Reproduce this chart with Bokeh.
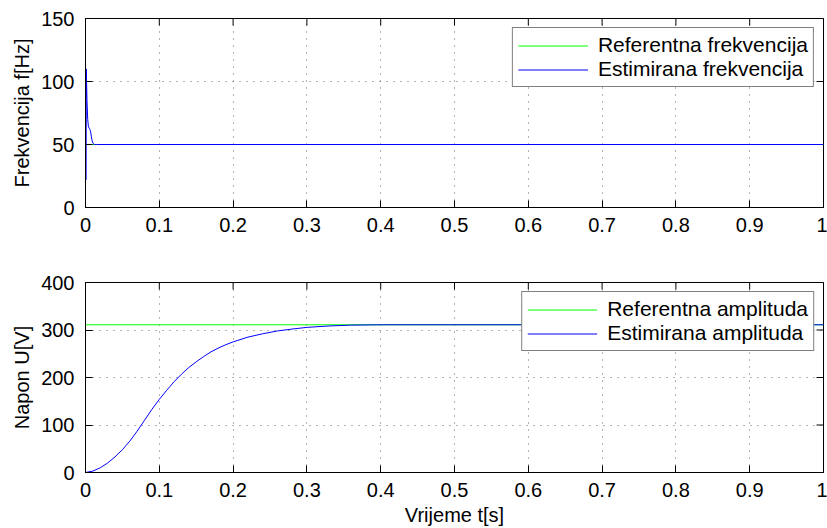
import math
from bokeh.plotting import figure
from bokeh.layouts import column
from bokeh.models import Range1d, FixedTicker, Legend, LegendItem
from bokeh.embed import file_html
from bokeh.resources import INLINE

# ---- data ----
t_ref_f = [0.0, 1.0]
f_ref = [50, 50]
t_est_f = [0.0008, 0.0011, 0.002, 0.003, 0.004, 0.005, 0.006, 0.007, 0.008, 0.009, 0.010, 0.012, 0.015, 1.0]
f_est = [22, 110, 85, 70, 64, 63, 62, 60, 56, 53, 51, 50, 50, 50]

t_ref_u = [0.0, 1.0]
u_ref = [311, 311]
t_est_u = [0, 0.01, 0.02, 0.03, 0.04, 0.05, 0.06, 0.07, 0.08, 0.09, 0.10, 0.11, 0.12, 0.13,
           0.14, 0.15, 0.16, 0.17, 0.18, 0.19, 0.20, 0.22, 0.24, 0.26, 0.28, 0.30, 0.33,
           0.36, 0.40, 1.0]
u_est = [0, 3, 10, 20, 33, 48, 66, 87, 110, 133, 154, 173, 191, 207,
         221, 233, 244, 254, 262, 269, 275, 285, 292, 298, 302, 305.5, 308.5,
         310.2, 311, 311]

x_ticks = [0, 0.1, 0.2, 0.3, 0.4, 0.5, 0.6, 0.7, 0.8, 0.9, 1]
x_tick_labels = {0: "0", 0.1: "0.1", 0.2: "0.2", 0.3: "0.3", 0.4: "0.4", 0.5: "0.5",
                 0.6: "0.6", 0.7: "0.7", 0.8: "0.8", 0.9: "0.9", 1: "1"}
f_ticks = [0, 50, 100, 150]
u_ticks = [0, 100, 200, 300, 400]

FONT = "Liberation Sans"
FS = "20px"
LFS = "21px"
GREEN = "#00ff00"
BLUE = "#0000ff"


def style_fig(p, yticks):
    p.outline_line_color = "black"
    p.outline_line_width = 1
    p.xaxis.ticker = FixedTicker(ticks=x_ticks)
    p.xaxis.major_label_overrides = x_tick_labels
    p.yaxis.ticker = FixedTicker(ticks=yticks)
    for ax in p.xaxis + p.yaxis:
        ax.major_tick_in = 7
        ax.major_tick_out = 0
        ax.minor_tick_in = 0
        ax.minor_tick_out = 0
        ax.axis_line_color = "black"
        ax.major_tick_line_color = "black"
        ax.major_label_text_font = FONT
        ax.major_label_text_font_size = FS
        ax.major_label_text_color = "black"
        ax.axis_label_text_font = FONT
        ax.axis_label_text_font_size = FS
        ax.axis_label_text_font_style = "normal"
        ax.axis_label_text_color = "black"
    p.xaxis.major_label_standoff = 10
    p.yaxis.major_label_standoff = 11
    for g in (p.xgrid, p.ygrid):
        g.grid_line_color = "#444444"
        g.grid_line_dash = "1 6"
        g.grid_line_width = 1
        g.grid_line_alpha = 0.8
    p.xgrid.ticker = FixedTicker(ticks=x_ticks)
    p.ygrid.ticker = FixedTicker(ticks=yticks)
    # box ticks on top and right edges (inward), clipped to the frame
    p.scatter(x=x_ticks, y=[yticks[-1]] * len(x_ticks), marker="dash", size=14,
              angle=math.pi / 2, line_color="black", line_width=1)
    p.scatter(x=[x_ticks[-1]] * len(yticks), y=yticks, marker="dash", size=14,
              angle=0, line_color="black", line_width=1)


def add_legend(p, r1, l1, r2, l2):
    leg = Legend(items=[LegendItem(label=l1, renderers=[r1]), LegendItem(label=l2, renderers=[r2])],
                 location="top_right")
    leg.label_text_font = FONT
    leg.label_text_font_size = LFS
    leg.label_text_color = "black"
    leg.glyph_width = 70
    leg.glyph_height = 23
    leg.label_height = 23
    leg.label_standoff = 10
    leg.padding = 5
    leg.spacing = 0
    leg.margin = 9
    leg.border_line_color = "black"
    leg.border_line_width = 1
    leg.background_fill_alpha = 1.0
    p.add_layout(leg)


p1 = figure(width=827, height=252, x_range=Range1d(0, 1), y_range=Range1d(0, 150),
            output_backend="svg", toolbar_location=None,
            min_border_left=85, min_border_right=4, min_border_top=18, min_border_bottom=45)
style_fig(p1, f_ticks)
p1.left[0].axis_label = "Frekvencija f[Hz]"
r1 = p1.line(t_ref_f, f_ref, line_color=GREEN, line_width=1)
r2 = p1.line(t_est_f, f_est, line_color=BLUE, line_width=1)
add_legend(p1, r1, "Referentna frekvencija", r2, "Estimirana frekvencija")

p2 = figure(width=827, height=276, x_range=Range1d(0, 1), y_range=Range1d(0, 400),
            output_backend="svg", toolbar_location=None,
            min_border_left=85, min_border_right=4, min_border_top=30, min_border_bottom=56)
style_fig(p2, u_ticks)
p2.left[0].axis_label = "Napon U[V]"
p2.below[0].axis_label = "Vrijeme t[s]"
p2.below[0].axis_label_standoff = 4
r3 = p2.line(t_ref_u, u_ref, line_color=GREEN, line_width=1)
r4 = p2.line(t_est_u, u_est, line_color=BLUE, line_width=1)
add_legend(p2, r3, "Referentna amplituda", r4, "Estimirana amplituda")

layout = column(p1, p2, spacing=0)
open("out.html", "w").write(file_html(layout, INLINE))
